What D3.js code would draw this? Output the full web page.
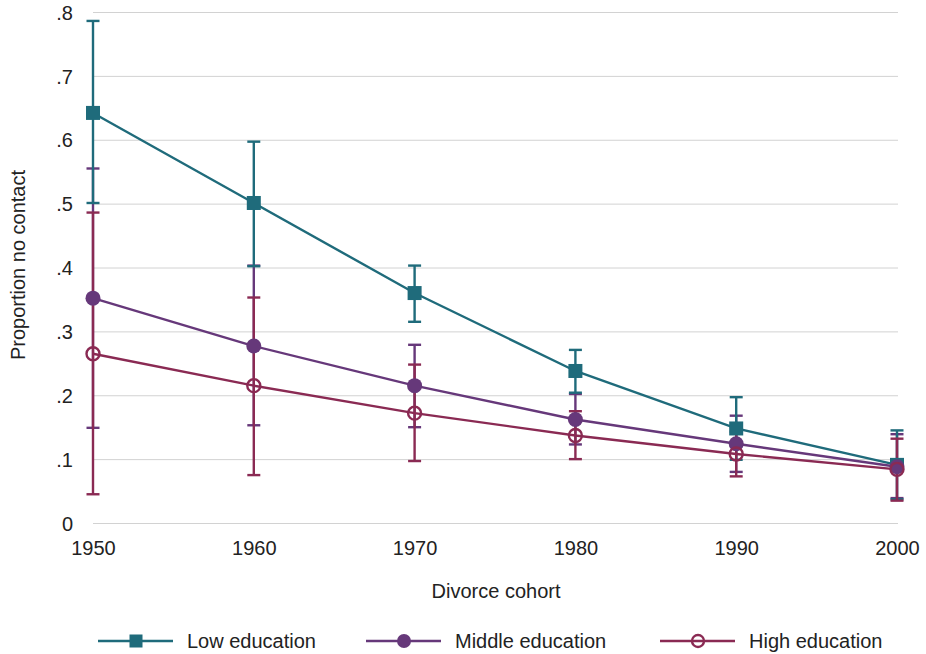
<!DOCTYPE html>
<html>
<head>
<meta charset="utf-8">
<script src="https://cdn.jsdelivr.net/npm/d3@7"></script>
<style>
  html, body { margin: 0; padding: 0; background: #fff; }
  svg { display: block; font-family: "Liberation Sans", Arial, Helvetica, sans-serif; }
</style>
</head>
<body>
<svg id="chart" width="926" height="654"></svg>
<script>
// ---- data ----
const cohorts = [1950, 1960, 1970, 1980, 1990, 2000];
const yTicks = [0, 0.1, 0.2, 0.3, 0.4, 0.5, 0.6, 0.7, 0.8];
const yTickLabels = ["0", ".1", ".2", ".3", ".4", ".5", ".6", ".7", ".8"];
const xTickLabels = ["1950", "1960", "1970", "1980", "1990", "2000"];

const seriesNames = ["Low education", "Middle education", "High education"];

const lowEst  = [0.642, 0.501, 0.360, 0.238, 0.148, 0.091];
const lowLo   = [0.501, 0.402, 0.315, 0.204, 0.099, 0.037];
const lowHi   = [0.786, 0.597, 0.403, 0.271, 0.197, 0.145];

const midEst  = [0.352, 0.277, 0.215, 0.162, 0.124, 0.088];
const midLo   = [0.149, 0.153, 0.150, 0.123, 0.080, 0.039];
const midHi   = [0.555, 0.403, 0.279, 0.202, 0.168, 0.139];

const highEst = [0.265, 0.215, 0.172, 0.137, 0.108, 0.084];
const highLo  = [0.045, 0.075, 0.097, 0.100, 0.073, 0.035];
const highHi  = [0.486, 0.353, 0.248, 0.175, 0.143, 0.132];

// ---- build ----
const colors = { low: "#1f6b7b", mid: "#66387a", high: "#8a2a53" };
const series = [
  { key: "low",  name: seriesNames[0], est: lowEst,  lo: lowLo,  hi: lowHi,  marker: "square" },
  { key: "mid",  name: seriesNames[1], est: midEst,  lo: midLo,  hi: midHi,  marker: "circle" },
  { key: "high", name: seriesNames[2], est: highEst, lo: highLo, hi: highHi, marker: "hollow" }
];

const svg = d3.select("#chart");
const x = d3.scaleLinear().domain([1950, 2000]).range([93, 897]);
const y = d3.scaleLinear().domain([0, 0.8]).range([523, 12]);
const FS = 20;
const SW = 2.4;

// gridlines
const grid = svg.append("g").attr("transform", `translate(${x(1950)},0)`)
  .call(d3.axisLeft(y).tickValues(yTicks).tickSize(-(x(2000) - x(1950) + 1)).tickFormat(""));
grid.select(".domain").remove();
grid.selectAll("line").attr("stroke", "#d2d2d2").attr("stroke-width", 1);

// y axis labels
const yAx = svg.append("g").attr("transform", "translate(73,0)")
  .call(d3.axisLeft(y).tickValues(yTicks).tickSize(0).tickPadding(0)
    .tickFormat((d, i) => yTickLabels[i]));
yAx.select(".domain").remove();
yAx.selectAll("text").attr("font-size", FS).attr("fill", "#222").attr("font-family", null)
  .attr("dy", "0.36em");

// x axis labels
const xAx = svg.append("g").attr("transform", "translate(0,540)")
  .call(d3.axisBottom(x).tickValues(cohorts).tickSize(0).tickPadding(0)
    .tickFormat((d, i) => xTickLabels[i]));
xAx.select(".domain").remove();
xAx.selectAll("text").attr("font-size", FS).attr("fill", "#222").attr("font-family", null)
  .attr("dy", "0.75em");

// axis titles
svg.append("text").attr("x", 496).attr("y", 598).attr("text-anchor", "middle")
  .attr("font-size", FS).attr("fill", "#222").text("Divorce cohort");
svg.append("text").attr("transform", "translate(25,265) rotate(-90)").attr("text-anchor", "middle")
  .attr("font-size", FS).attr("fill", "#222").text("Proportion no contact");

// error bars (middle, low, high order)
const capW = 6.5;
const barOrder = [series[1], series[0], series[2]];
barOrder.forEach(s => {
  const g = svg.append("g").attr("stroke", colors[s.key]).attr("stroke-width", SW).attr("fill", "none");
  cohorts.forEach((c, i) => {
    const cx = x(c);
    g.append("line").attr("x1", cx).attr("x2", cx).attr("y1", y(s.lo[i])).attr("y2", y(s.hi[i]));
    g.append("line").attr("x1", cx - capW).attr("x2", cx + capW).attr("y1", y(s.lo[i])).attr("y2", y(s.lo[i]));
    g.append("line").attr("x1", cx - capW).attr("x2", cx + capW).attr("y1", y(s.hi[i])).attr("y2", y(s.hi[i]));
  });
});

// lines and markers
const line = d3.line().x((d, i) => x(cohorts[i])).y(d => y(d));
function drawMarker(g, s, cx, cy, size) {
  const col = colors[s.key];
  if (s.marker === "square") {
    g.append("rect").attr("x", cx - size).attr("y", cy - size).attr("width", size * 2).attr("height", size * 2)
      .attr("fill", col);
  } else if (s.marker === "circle") {
    g.append("circle").attr("cx", cx).attr("cy", cy).attr("r", size + 0.5).attr("fill", col);
  } else {
    g.append("circle").attr("cx", cx).attr("cy", cy).attr("r", size - 0.5).attr("fill", "none")
      .attr("stroke", col).attr("stroke-width", SW);
  }
}
series.forEach(s => {
  svg.append("path").datum(s.est).attr("d", line).attr("fill", "none")
    .attr("stroke", colors[s.key]).attr("stroke-width", SW);
});
series.forEach(s => {
  const g = svg.append("g");
  cohorts.forEach((c, i) => drawMarker(g, s, x(c), y(s.est[i]), 7));
});

// legend
const legendX = [98, 366, 660];
const legendY = 641;
series.forEach((s, i) => {
  const g = svg.append("g").attr("transform", `translate(${legendX[i]},${legendY})`);
  g.append("line").attr("x1", 0).attr("x2", 75).attr("y1", 0).attr("y2", 0)
    .attr("stroke", colors[s.key]).attr("stroke-width", 2.6);
  drawMarker(g, s, 38, 0, 6.5);
  g.append("text").attr("x", 89).attr("y", 0).attr("dy", "0.36em")
    .attr("font-size", FS).attr("fill", "#222").text(s.name);
});
</script>
</body>
</html>
